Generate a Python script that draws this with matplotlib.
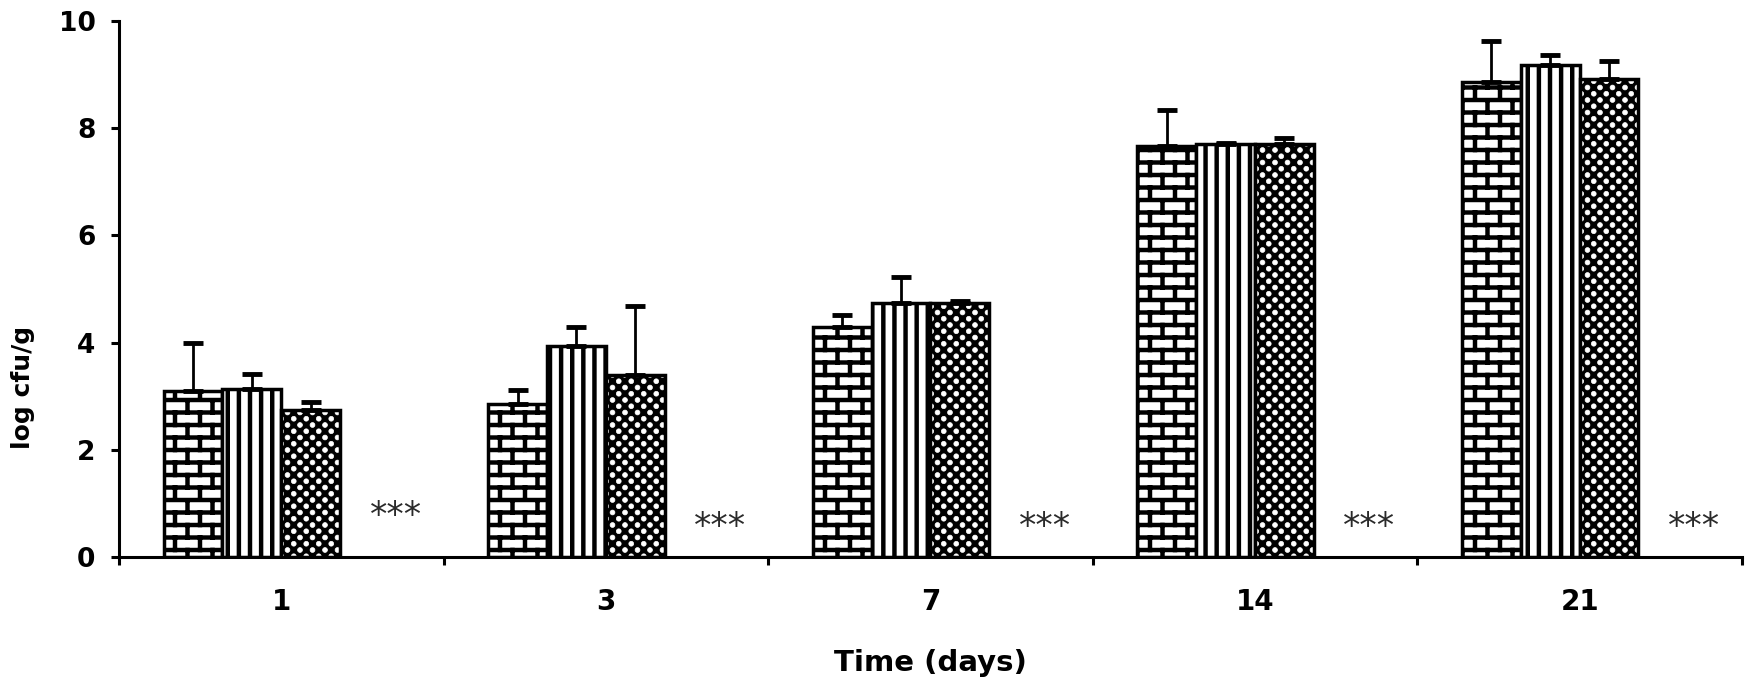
import warnings
warnings.filterwarnings("ignore")
import numpy as np
import matplotlib
matplotlib.use("Agg")
import matplotlib.pyplot as plt
import matplotlib.hatch as mhatch
from matplotlib.path import Path

# ---------------- data ----------------
days = ["1", "3", "7", "14", "21"]
brick_mean = [3.10, 2.85, 4.29, 7.66, 8.87]
brick_err = [0.90, 0.27, 0.23, 0.67, 0.75]
vert_mean = [3.14, 3.93, 4.73, 7.70, 9.18]
vert_err = [0.27, 0.36, 0.50, 0.03, 0.19]
dots_mean = [2.74, 3.39, 4.73, 7.70, 8.91]
dots_err = [0.15, 1.30, 0.04, 0.12, 0.34]
star_label = "***"
star_y = [0.76, 0.56, 0.56, 0.56, 0.56]
y_ticks = [0, 2, 4, 6, 8, 10]

# ---------------- custom hatches ----------------
HATCH_LW = 3.2
DOT_HATCH_LW = 0.5
DOT_R = [0.004]


class _CustomHatch(mhatch.HatchPatternBase):
    char = None

    def __init__(self, hatch, density):
        if hatch is not None and self.char in hatch:
            self.verts, self.cds = self.build()
            self.num_vertices = len(self.verts)
        else:
            self.num_vertices = 0

    def set_vertices_and_codes(self, vertices, codes):
        vertices[:] = self.verts
        codes[:] = self.cds


class BrickHatch(_CustomHatch):
    char = "B"

    def build(self):
        rows, cols = 8, 4
        v, c = [], []
        for k in range(rows + 1):
            v += [(0.0, k / rows), (1.0, k / rows)]
            c += [Path.MOVETO, Path.LINETO]
        for k in range(rows):
            off = 0.5 * (k % 2)
            for j in range(cols + 1):
                x = (j + off) / cols
                if x <= 1.0:
                    v += [(x, k / rows), (x, (k + 1) / rows)]
                    c += [Path.MOVETO, Path.LINETO]
        return np.array(v, float), np.array(c, Path.code_type)


class VertHatch(_CustomHatch):
    char = "V"

    def build(self):
        n = 9
        v, c = [], []
        for j in range(n):
            x = (j + 0.5) / n
            v += [(x, 0.0), (x, 1.0)]
            c += [Path.MOVETO, Path.LINETO]
        return np.array(v, float), np.array(c, Path.code_type)


class DotHatch(_CustomHatch):
    char = "D"

    def build(self):
        rows, cols = 16, 8
        circ = Path.unit_circle()
        v, c = [], []
        for r in range(rows + 1):
            off = 0.5 * (r % 2)
            for j in range(-1, cols + 2):
                x = (j + off) / cols
                if -0.1 <= x <= 1.1:
                    v += list(circ.vertices * DOT_R[0] + [x, r / rows])
                    c += list(circ.codes)
        return np.array(v, float), np.array(c, Path.code_type)


mhatch._hatch_types.extend([BrickHatch, VertHatch, DotHatch])

plt.rcParams["hatch.linewidth"] = HATCH_LW
plt.rcParams["font.family"] = ["DejaVu Sans"]

# ---------------- figure ----------------
fig = plt.figure(figsize=(17.5, 6.89), dpi=100)
ax = fig.add_axes([0.068, 0.1916, 0.9274, 0.778])

x = np.arange(len(days))
w = 0.181
start = -0.5 + 0.1376
pos_b = x + start + 0.5 * w
pos_v = x + start + 1.5 * w
pos_d = x + start + 2.5 * w

ax.bar(pos_b, brick_mean, w, facecolor="white", edgecolor="black",
       hatch="B", linewidth=2.5, zorder=2)
ax.bar(pos_v, vert_mean, w, facecolor="white", edgecolor="black",
       hatch="V", linewidth=2.5, zorder=2)
dot_bars = ax.bar(pos_d, dots_mean, w, facecolor="black", edgecolor="white",
                  hatch="D", linewidth=0, zorder=2)
per_patch = all(hasattr(p, "set_hatch_linewidth") for p in dot_bars)
if per_patch:
    for p in dot_bars:
        p.set_hatch_linewidth(DOT_HATCH_LW)
    DOT_R[0] = 0.024
ax.bar(pos_d, dots_mean, w, facecolor="none", edgecolor="black",
       linewidth=2.5, zorder=2.1)

for pos, m, e in [(pos_b, brick_mean, brick_err),
                  (pos_v, vert_mean, vert_err),
                  (pos_d, dots_mean, dots_err)]:
    ax.errorbar(pos, m, yerr=[np.zeros(len(m)), e], fmt="none",
                ecolor="black", elinewidth=2.0, capsize=7, capthick=3.5,
                zorder=3)

for i in range(len(days)):
    ax.text(x[i] + 0.352, star_y[i], star_label, ha="center", va="center",
            fontsize=25, color="#2a2a2a", family="DejaVu Sans")

ax.set_xlim(-0.5, len(days) - 0.5)
ax.set_ylim(0, 10)
ax.set_yticks(y_ticks)
ax.set_yticklabels([str(t) for t in y_ticks], fontsize=19, fontweight="bold")
ax.set_xticks(np.arange(len(days) + 1) - 0.5)
ax.set_xticklabels([])
ax.set_xticks(x, minor=True)
ax.set_xticklabels(days, minor=True, fontsize=20, fontweight="bold")
ax.tick_params(axis="x", which="major", length=6, width=2.2, direction="out")
ax.tick_params(axis="x", which="minor", length=0, pad=22)
ax.tick_params(axis="y", length=6, width=2.2, direction="out", pad=11)

for s in ["top", "right"]:
    ax.spines[s].set_visible(False)
for s in ["left", "bottom"]:
    ax.spines[s].set_linewidth(2.2)

ax.set_xlabel("Time (days)", fontsize=21, fontweight="bold")
ax.xaxis.set_label_coords(0.5, -0.171)
ax.set_ylabel("log cfu/g", fontsize=18, fontweight="bold")
ax.yaxis.set_label_coords(-0.052, 0.317)

fig.savefig("out.png", dpi=100)
